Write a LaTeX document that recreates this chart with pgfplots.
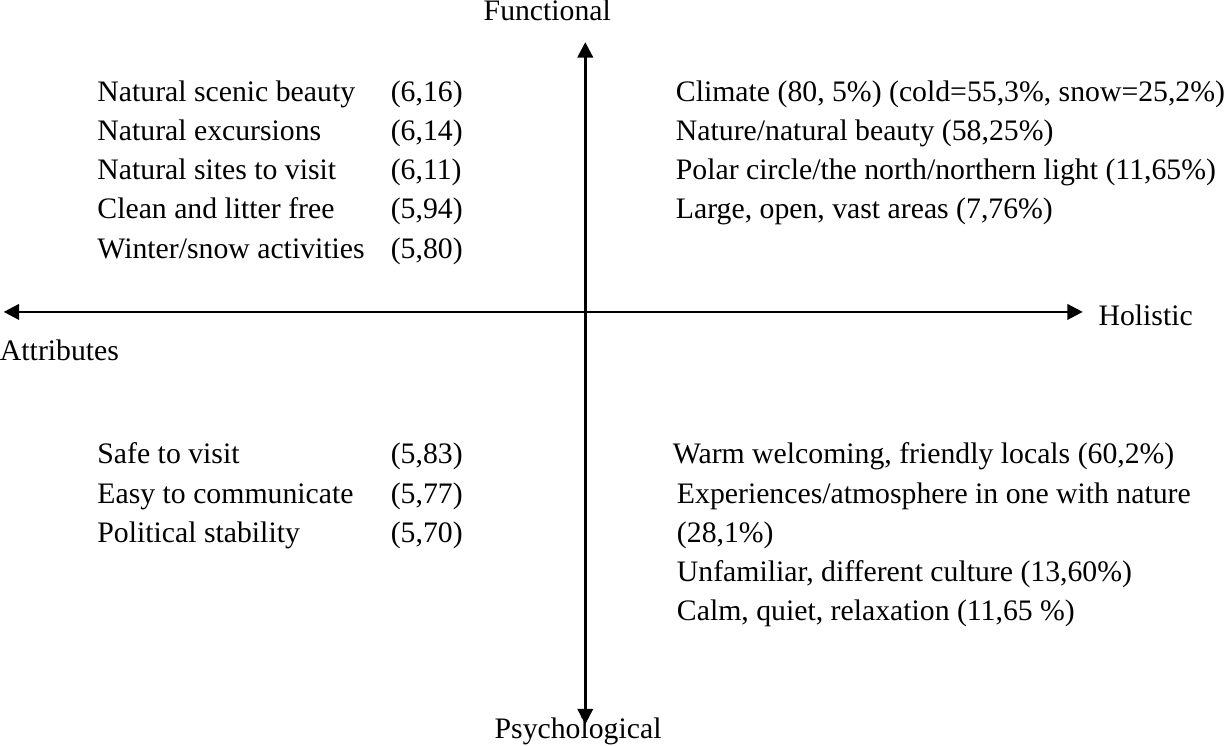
\documentclass[border=0pt]{standalone}
\usepackage{pgfplots}
\pgfplotsset{compat=1.18}
\usepackage{fontspec}
\setmainfont{Liberation Serif}
\usetikzlibrary{arrows.meta}
\tikzset{lbl/.style={inner sep=0pt, anchor=base west}, ctr/.style={inner sep=0pt, anchor=base}}
\begin{document}
\fontsize{14.5}{16}\selectfont
\begin{tikzpicture}
\begin{axis}[
  scale only axis, width=612.5pt, height=372.5pt,
  xmin=0, xmax=1225, ymin=-745, ymax=0,
  hide axis, clip=false,
]
% axes arrows
\addplot[black, line width=1.25pt, {Triangle[length=7.5pt,width=7.5pt]}-{Triangle[length=7.5pt,width=7.5pt]}] coordinates {(16,-321) (1068,-321)};
\addplot[black, line width=1.25pt, {Triangle[length=7.5pt,width=7.5pt]}-{Triangle[length=7.5pt,width=7.5pt]}] coordinates {(583,-723) (583,-58)};
% axis names
\node[ctr] at (axis cs:546,-37) {Functional};
\node[lbl] at (axis cs:1083,-334) {Holistic};
\node[lbl] at (axis cs:12,-368) {Attributes};
\node[ctr] at (axis cs:576,-737) {Psychological};
% upper left
\node[lbl] at (axis cs:107,-116) {Natural scenic beauty};
\node[lbl] at (axis cs:107,-154) {Natural excursions};
\node[lbl] at (axis cs:107,-192) {Natural sites to visit};
\node[lbl] at (axis cs:107,-230) {Clean and litter free};
\node[lbl] at (axis cs:107,-269) {Winter/snow activities};
\node[lbl] at (axis cs:393,-116) {(6,16)};
\node[lbl] at (axis cs:393,-154) {(6,14)};
\node[lbl] at (axis cs:393,-192) {(6,11)};
\node[lbl] at (axis cs:393,-230) {(5,94)};
\node[lbl] at (axis cs:393,-269) {(5,80)};
% upper right
\node[lbl] at (axis cs:671,-116) {Climate (80, 5\%) (cold=55,3\%, snow=25,2\%)};
\node[lbl] at (axis cs:671,-154) {Nature/natural beauty (58,25\%)};
\node[lbl] at (axis cs:671,-192) {Polar circle/the north/northern light (11,65\%)};
\node[lbl] at (axis cs:671,-230) {Large, open, vast areas (7,76\%)};
% lower left
\node[lbl] at (axis cs:107,-469) {Safe to visit};
\node[lbl] at (axis cs:107,-508) {Easy to communicate};
\node[lbl] at (axis cs:107,-546) {Political stability};
\node[lbl] at (axis cs:393,-469) {(5,83)};
\node[lbl] at (axis cs:393,-508) {(5,77)};
\node[lbl] at (axis cs:393,-546) {(5,70)};
% lower right
\node[lbl] at (axis cs:668,-469) {Warm welcoming, friendly locals (60,2\%)};
\node[lbl] at (axis cs:672,-508) {Experiences/atmosphere in one with nature};
\node[lbl] at (axis cs:672,-546) {(28,1\%)};
\node[lbl] at (axis cs:672,-584) {Unfamiliar, different culture (13,60\%)};
\node[lbl] at (axis cs:672,-622) {Calm, quiet, relaxation (11,65 \%)};
\end{axis}
\end{tikzpicture}
\end{document}
